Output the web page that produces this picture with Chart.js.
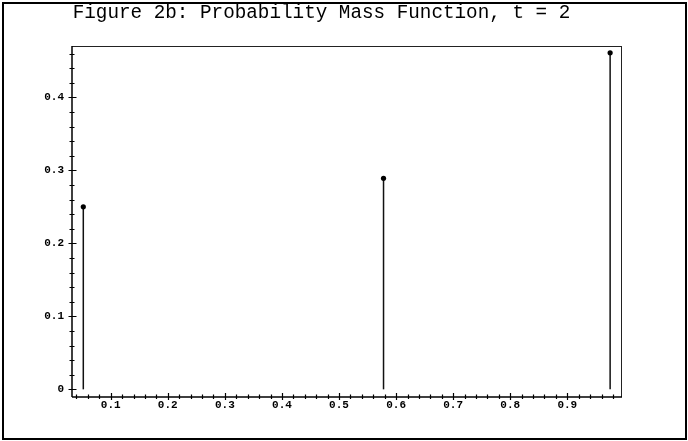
<!DOCTYPE html>
<html>
<head>
<meta charset="utf-8">
<script src="https://cdn.jsdelivr.net/npm/chart.js@4/dist/chart.umd.min.js"></script>
<style>
    html, body { margin: 0; padding: 0; background: #fff; }
    #wrap { position: relative; width: 688px; height: 441px; overflow: hidden; }
    #chart { position: absolute; left: 0; top: 0; }
    #frame {
        position: absolute; left: 2px; top: 2px; width: 685px; height: 438px;
        box-sizing: border-box; border: 2px solid #000; pointer-events: none;
    }
    #title {
        position: absolute; left: 0; top: 4px; width: 643px; text-align: center;
        font: 19.3px 'Liberation Mono', 'DejaVu Sans Mono', monospace; line-height: 19px;
        color: #000; white-space: pre;
    }
</style>
</head>
<body>
<div id="wrap">
    <canvas id="chart" width="688" height="441"></canvas>
    <div id="title">Figure 2b: Probability Mass Function, t = 2</div>
    <div id="frame"></div>
</div>
<script>
document.addEventListener('DOMContentLoaded', () => {
    'use strict';

    // --- data ---
    const stemX = [0.052, 0.578, 0.975];
    const stemP = [0.25, 0.289, 0.461];

    const xRange = [0.0322, 0.9958];
    const yRange = [-0.0105, 0.4703];
    const minorStep = 0.02;
    const xTickLabels = ['0.1', '0.2', '0.3', '0.4', '0.5', '0.6', '0.7', '0.8', '0.9'];
    const yTickLabels = ['0', '0.1', '0.2', '0.3', '0.4'];

    const fmt = v => (Math.abs(v) < 1e-9 ? '0' : v.toFixed(1));
    const isMajor = v => Math.abs(v * 10 - Math.round(v * 10)) < 1e-6;
    const labelFor = list => v => (isMajor(v) && list.includes(fmt(v)) ? fmt(v) : '');

    // one dataset per stem: from (x, 0) up to (x, p), dot on top
    const datasets = stemX.map((x, i) => ({
        data: [{ x: x, y: 0 }, { x: x, y: stemP[i] }],
        showLine: true,
        borderColor: '#111',
        borderWidth: 1.5,
        pointRadius: [0, 2.6],
        pointBackgroundColor: '#000',
        pointBorderWidth: 0
    }));

    // axis lines, box and cross-shaped tick marks
    const axesPlugin = {
        id: 'mapleAxes',
        afterDraw(chart) {
            const { ctx, chartArea: a, scales: { x, y } } = chart;
            ctx.save();
            ctx.strokeStyle = '#222';
            ctx.lineWidth = 1;
            ctx.beginPath();
            ctx.moveTo(a.left, a.top + 0.5); ctx.lineTo(a.right, a.top + 0.5);
            ctx.moveTo(a.right - 0.5, a.top); ctx.lineTo(a.right - 0.5, a.bottom);
            ctx.stroke();

            ctx.strokeStyle = '#000';
            ctx.lineWidth = 1.5;
            ctx.beginPath();
            ctx.moveTo(a.left, a.top); ctx.lineTo(a.left, a.bottom);
            ctx.moveTo(a.left, a.bottom); ctx.lineTo(a.right, a.bottom);
            ctx.stroke();

            ctx.lineWidth = 1.2;
            ctx.beginPath();
            y.ticks.forEach(t => {
                const py = Math.round(y.getPixelForValue(t.value)) + 0.5;
                const big = isMajor(t.value);
                ctx.moveTo(a.left - (big ? 3.5 : 2.5), py);
                ctx.lineTo(a.left + (big ? 4.5 : 2.5), py);
            });
            x.ticks.forEach(t => {
                const px = Math.round(x.getPixelForValue(t.value)) + 0.5;
                const big = isMajor(t.value);
                ctx.moveTo(px, a.bottom - (big ? 4 : 2.5));
                ctx.lineTo(px, a.bottom + (big ? 3 : 2));
            });
            ctx.stroke();
            ctx.restore();
        }
    };

    const tickFont = { family: "'Liberation Mono', 'DejaVu Sans Mono', monospace", size: 11, weight: 'bold' };

    new Chart(document.getElementById('chart'), {
        type: 'scatter',
        data: { datasets },
        options: {
            responsive: false,
            animation: false,
            layout: { padding: { top: 46, right: 66, left: 0, bottom: 0 } },
            plugins: { legend: { display: false }, tooltip: { enabled: false } },
            scales: {
                x: {
                    type: 'linear',
                    min: xRange[0],
                    max: xRange[1],
                    grid: { display: false, drawTicks: false },
                    border: { display: false },
                    ticks: {
                        stepSize: minorStep,
                        includeBounds: false,
                        autoSkip: false,
                        maxRotation: 0,
                        minRotation: 0,
                        padding: 2,
                        color: '#000',
                        font: tickFont,
                        callback: labelFor(xTickLabels)
                    },
                    afterFit: s => { s.height = 44; }
                },
                y: {
                    type: 'linear',
                    min: yRange[0],
                    max: yRange[1],
                    grid: { display: false, drawTicks: false },
                    border: { display: false },
                    ticks: {
                        stepSize: minorStep,
                        includeBounds: false,
                        autoSkip: false,
                        padding: 8,
                        color: '#000',
                        font: tickFont,
                        callback: labelFor(yTickLabels)
                    },
                    afterFit: s => { s.width = 72; }
                }
            }
        },
        plugins: [axesPlugin]
    });
});
</script>
</body>
</html>
